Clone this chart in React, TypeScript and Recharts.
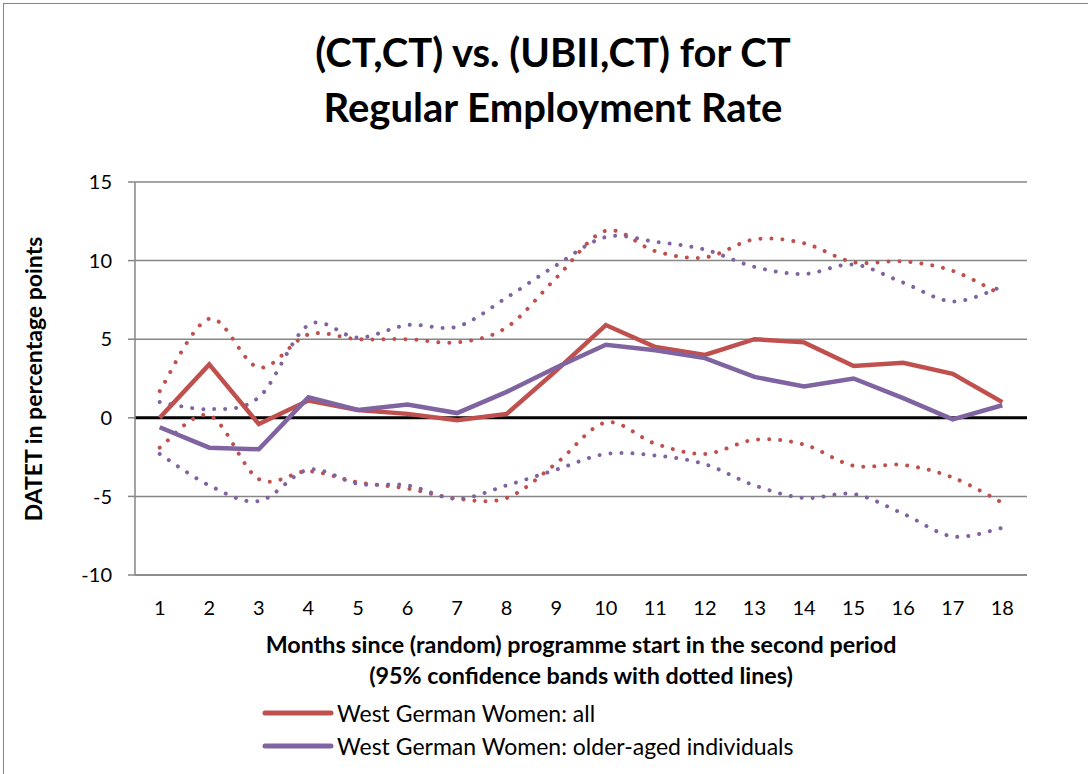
import React from 'react';
import { LineChart, Line, XAxis, YAxis, CartesianGrid, ReferenceLine, Legend } from 'recharts';

const months = [1, 2, 3, 4, 5, 6, 7, 8, 9, 10, 11, 12, 13, 14, 15, 16, 17, 18];
const allEst = [0, 3.4, -0.4, 1.1, 0.5, 0.25, -0.15, 0.25, 3.0, 5.9, 4.5, 4.0, 5.0, 4.8, 3.3, 3.5, 2.8, 1.0];
const allHi = [1.7, 6.3, 3.2, 5.3, 5.0, 5.0, 4.8, 5.75, 8.9, 11.9, 10.6, 10.2, 11.35, 11.1, 9.9, 9.95, 9.35, 7.8];
const allLo = [-1.9, 0.15, -3.9, -3.4, -4.1, -4.5, -5.15, -5.1, -2.9, -0.3, -1.65, -2.3, -1.4, -1.7, -3.05, -3.0, -3.8, -5.4];
const oldEst = [-0.6, -1.9, -2.0, 1.3, 0.5, 0.85, 0.3, 1.65, 3.2, 4.65, 4.3, 3.8, 2.6, 2.0, 2.5, 1.25, -0.1, 0.8];
const oldHi = [1.0, 0.55, 1.3, 5.9, 5.1, 5.9, 5.8, 7.65, 9.7, 11.5, 11.2, 10.7, 9.6, 9.15, 9.75, 8.6, 7.4, 8.35];
const oldLo = [-2.3, -4.3, -5.3, -3.3, -4.2, -4.3, -5.15, -4.3, -3.3, -2.3, -2.4, -2.95, -4.3, -5.1, -4.85, -6.1, -7.55, -7.0];
const yTicks = [-10, -5, 0, 5, 10, 15];

const titleLines = ['(CT,CT) vs. (UBII,CT) for CT', 'Regular Employment Rate'];
const xTitleLines = ['Months since (random) programme start in the second period', '(95% confidence bands with dotted lines)'];
const yTitle = 'DATET in percentage points';
const seriesNames = ['West German Women: all', 'West German Women: older-aged individuals'];

const RED = '#C0504D';
const PURPLE = '#8064A2';
const GRAY = '#868686';
const FONT = 'Lato, "Open Sans", sans-serif';

const data = months.map((m, i) => ({
  m,
  allEst: allEst[i],
  allHi: allHi[i],
  allLo: allLo[i],
  oldEst: oldEst[i],
  oldHi: oldHi[i],
  oldLo: oldLo[i],
}));

// Excel-like smoothing (Catmull-Rom via cubic Bezier)
const smoothCurve = (context: any) => {
  let pts: number[][] = [];
  return {
    areaStart() {},
    areaEnd() {},
    lineStart() {
      pts = [];
    },
    point(x: number, y: number) {
      pts.push([+x, +y]);
    },
    lineEnd() {
      if (!pts.length) return;
      context.moveTo(pts[0][0], pts[0][1]);
      for (let i = 0; i < pts.length - 1; i++) {
        const p0 = pts[i - 1] || pts[i];
        const p1 = pts[i];
        const p2 = pts[i + 1];
        const p3 = pts[i + 2] || p2;
        context.bezierCurveTo(
          p1[0] + (p2[0] - p0[0]) / 6,
          p1[1] + (p2[1] - p0[1]) / 6,
          p2[0] - (p3[0] - p1[0]) / 6,
          p2[1] - (p3[1] - p1[1]) / 6,
          p2[0],
          p2[1]
        );
      }
    },
  };
};

const LegendContent = () => (
  <div style={{ fontFamily: FONT, fontSize: 23, color: '#000', textAlign: 'left' }}>
    {[RED, PURPLE].map((c, i) => (
      <div key={i} style={{ display: 'flex', alignItems: 'center', height: 33 }}>
        <svg width={72} height={8} style={{ marginRight: 3 }}>
          <line x1={3} y1={4} x2={69} y2={4} stroke={c} strokeWidth={5} strokeLinecap="round" />
        </svg>
        <span>{seriesNames[i]}</span>
      </div>
    ))}
  </div>
);

export default function App() {
  return (
    <div
      style={{
        position: 'absolute',
        left: 0,
        top: 0,
        width: 1088,
        height: 774,
        overflow: 'hidden',
        background: '#fff',
        fontFamily: FONT,
      }}
    >
      <div
        style={{
          position: 'absolute',
          left: 3,
          top: 3,
          width: 1200,
          height: 900,
          borderLeft: `1.5px solid ${GRAY}`,
          borderTop: `1.5px solid ${GRAY}`,
        }}
      />
      <div
        style={{
          position: 'absolute',
          left: 0,
          top: 25,
          width: 1106,
          textAlign: 'center',
          fontWeight: 700,
          fontSize: 40,
          lineHeight: '55px',
          color: '#000',
        }}
      >
        {titleLines.map((t, i) => (
          <div key={i}>{t}</div>
        ))}
      </div>
      <div style={{ position: 'absolute', left: 0, top: 0 }}>
        <LineChart width={1088} height={774} data={data} margin={{ top: 182, right: 61, bottom: 169, left: 75 }}>
          <CartesianGrid vertical={false} stroke={GRAY} strokeWidth={1.5} />
          <XAxis
            dataKey="m"
            padding={{ left: 24.7, right: 24.7 }}
            tickLine={false}
            axisLine={{ stroke: GRAY, strokeWidth: 1.5 }}
            tick={{ fill: '#000', fontSize: 20, fontFamily: FONT }}
            tickSize={8}
            tickMargin={18}
            interval={0}
          />
          <YAxis
            width={60}
            domain={[-10, 15]}
            ticks={yTicks}
            interval={0}
            axisLine={{ stroke: GRAY, strokeWidth: 1.5 }}
            tickLine={{ stroke: GRAY, strokeWidth: 1.5 }}
            tickSize={7}
            tickMargin={16}
            tick={{ fill: '#000', fontSize: 20, fontFamily: FONT }}
          />
          <ReferenceLine y={0} stroke="#000" strokeWidth={3} />
          <Line dataKey="allHi" type={smoothCurve as any} stroke={RED} strokeWidth={4} strokeDasharray="0.01 11" strokeLinecap="round" dot={false} isAnimationActive={false} legendType="none" />
          <Line dataKey="allLo" type={smoothCurve as any} stroke={RED} strokeWidth={4} strokeDasharray="0.01 11" strokeLinecap="round" dot={false} isAnimationActive={false} legendType="none" />
          <Line dataKey="oldHi" type={smoothCurve as any} stroke={PURPLE} strokeWidth={4} strokeDasharray="0.01 11" strokeLinecap="round" dot={false} isAnimationActive={false} legendType="none" />
          <Line dataKey="oldLo" type={smoothCurve as any} stroke={PURPLE} strokeWidth={4} strokeDasharray="0.01 11" strokeLinecap="round" dot={false} isAnimationActive={false} legendType="none" />
          <Line dataKey="allEst" name={seriesNames[0]} type="linear" stroke={RED} strokeWidth={4.5} dot={false} isAnimationActive={false} />
          <Line dataKey="oldEst" name={seriesNames[1]} type="linear" stroke={PURPLE} strokeWidth={4.5} dot={false} isAnimationActive={false} />
          <Legend
            content={<LegendContent />}
            layout="vertical"
            verticalAlign="middle"
            align="center"
            wrapperStyle={{ left: 262, top: 696, width: 620 }}
          />
        </LineChart>
      </div>
      <div
        style={{
          position: 'absolute',
          left: 0,
          top: 629,
          width: 1162,
          textAlign: 'center',
          fontWeight: 700,
          fontSize: 23.3,
          lineHeight: '31px',
          color: '#000',
        }}
      >
        {xTitleLines.map((t, i) => (
          <div key={i}>{t}</div>
        ))}
      </div>
      <div
        style={{
          position: 'absolute',
          left: 33,
          top: 379,
          transform: 'translate(-50%, -50%) rotate(-90deg)',
          whiteSpace: 'nowrap',
          fontWeight: 700,
          fontSize: 23,
          color: '#000',
        }}
      >
        {yTitle}
      </div>
    </div>
  );
}
